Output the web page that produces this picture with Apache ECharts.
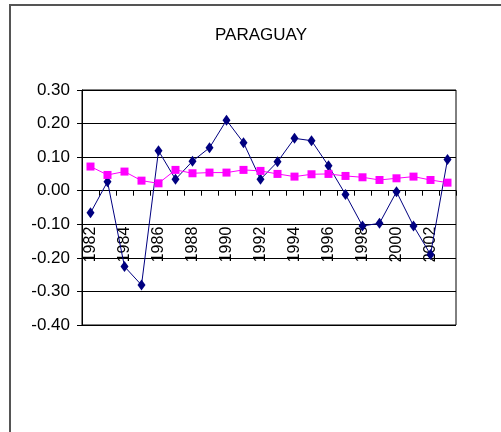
<!DOCTYPE html>
<html>
<head>
<meta charset="utf-8">
<script src="https://cdn.jsdelivr.net/npm/echarts@6/dist/echarts.min.js"></script>
<style>
  html, body { margin: 0; padding: 0; background: #fff; }
  #chart { width: 501px; height: 432px; }
</style>
</head>
<body>
<div id="chart"></div>
<script>
// Years on the category axis
const years = ['1982','1983','1984','1985','1986','1987','1988','1989','1990','1991','1992',
               '1993','1994','1995','1996','1997','1998','1999','2000','2001','2002','2003'];

// Annual series (navy, diamonds)
const seriesA = [-0.066, 0.027, -0.226, -0.281, 0.119, 0.034, 0.088, 0.128, 0.210, 0.143, 0.034,
                 0.086, 0.156, 0.149, 0.074, -0.011, -0.105, -0.097, -0.003, -0.105, -0.190, 0.093];

// Smoothed series (magenta, squares)
const seriesB = [0.072, 0.047, 0.057, 0.030, 0.022, 0.062, 0.052, 0.054, 0.054, 0.062, 0.059,
                 0.050, 0.042, 0.049, 0.050, 0.044, 0.040, 0.032, 0.037, 0.042, 0.032, 0.024];

// Value axis ticks
const yMin = -0.4, yMax = 0.3, yStep = 0.1;

const FONT = '"Liberation Sans", Arial, sans-serif';
const GRID = { left: 82, top: 90, width: 374, height: 235 };

const chart = echarts.init(document.getElementById('chart'), null, { renderer: 'canvas' });

chart.setOption({
  animation: false,
  backgroundColor: '#ffffff',
  title: {
    text: 'PARAGUAY',
    left: 256,
    top: 22,
    textAlign: 'center',
    textStyle: { fontFamily: FONT, fontSize: 17, fontWeight: 'normal', color: '#000' }
  },
  graphic: [{
    type: 'rect',
    shape: { x: 10, y: 5, width: 520, height: 460 },
    style: { fill: 'none', stroke: '#555', lineWidth: 2 },
    silent: true,
    z: -1
  }],
  grid: {
    left: GRID.left, top: GRID.top, width: GRID.width, height: GRID.height,
    show: true, borderColor: '#000', borderWidth: 1, backgroundColor: 'transparent'
  },
  xAxis: {
    type: 'category',
    data: years,
    boundaryGap: true,
    position: 'bottom',
    offset: 0,
    axisLine: { onZero: false, lineStyle: { color: '#000', width: 1 } },
    axisTick: { show: true, interval: 0, length: 5, inside: false, lineStyle: { color: '#000' } },
    axisLabel: {
      interval: 1, rotate: 90, margin: 36,
      fontFamily: FONT, fontSize: 16, color: '#000'
    },
    splitLine: { show: false }
  },
  yAxis: {
    type: 'value',
    min: yMin, max: yMax, interval: yStep,
    axisLine: { show: true, lineStyle: { color: '#000', width: 1 } },
    axisTick: { show: true, length: 5, lineStyle: { color: '#000' } },
    axisLabel: {
      margin: 12,
      fontFamily: FONT, fontSize: 17, color: '#000',
      formatter: v => v.toFixed(2)
    },
    splitLine: { show: true, lineStyle: { color: '#000', width: 1 } }
  },
  series: [
    {
      type: 'line',
      data: seriesA,
      symbol: 'diamond',
      symbolSize: [8, 11],
      showAllSymbol: true,
      lineStyle: { color: '#000080', width: 1 },
      itemStyle: { color: '#000080' },
      z: 3
    },
    {
      type: 'line',
      data: seriesB,
      symbol: 'rect',
      symbolSize: 8,
      showAllSymbol: true,
      lineStyle: { color: '#ff00ff', width: 1 },
      itemStyle: { color: '#ff00ff' },
      z: 4
    }
  ]
});

// Lift the category axis (line, ticks, labels) up to the zero line of the value scale
const zeroY = chart.convertToPixel({ yAxisIndex: 0 }, 0);
const bottomY = GRID.top + GRID.height;
chart.setOption({ xAxis: { offset: zeroY - bottomY } });
</script>
</body>
</html>
